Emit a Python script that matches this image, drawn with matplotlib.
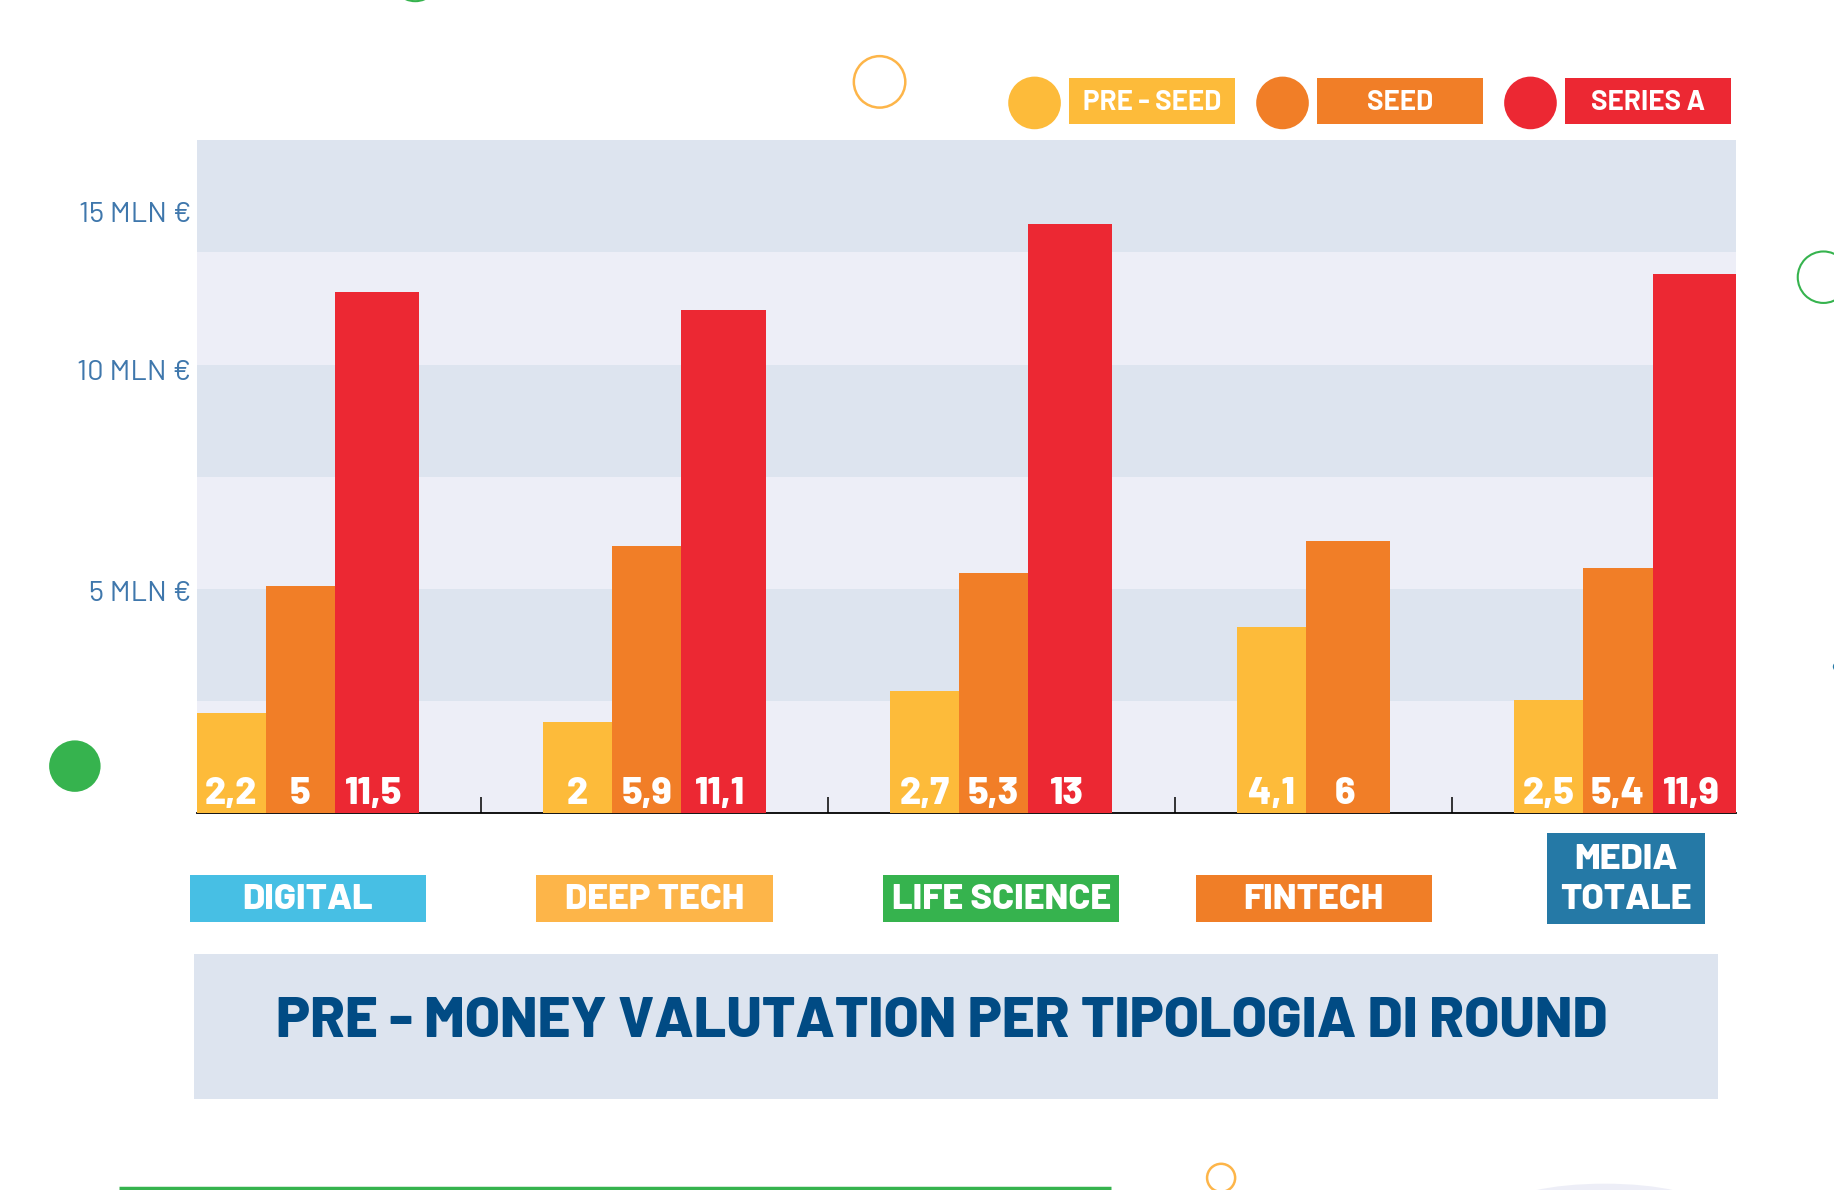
import matplotlib
matplotlib.use("Agg")
import matplotlib.pyplot as plt
from matplotlib.patches import Rectangle, Circle, Ellipse

# data
categories = ["DIGITAL", "DEEP TECH", "LIFE SCIENCE", "FINTECH", "MEDIA\nTOTALE"]
series = ["PRE - SEED", "SEED", "SERIES A"]
pre_seed = [2.2, 2.0, 2.7, 4.1, 2.5]
seed = [5.0, 5.9, 5.3, 6.0, 5.4]
series_a = [11.5, 11.1, 13.0, None, 11.9]
ytick_labels = ["15 MLN €", "10 MLN €", "5 MLN €"]
title = "PRE - MONEY VALUTATION PER TIPOLOGIA DI ROUND"

# look
series_colors = ["#FDBB3A", "#F17E27", "#EC2833"]
cat_colors = ["#47BFE4", "#FDB549", "#36B34E", "#F07E27", "#2579A6"]
band_dark, band_light = "#DDE4EF", "#EDEEF7"
label_blue = "#3F77AC"
title_blue = "#014B84"
FONT = ["Barlow", "Roboto", "DejaVu Sans"]

group_x = [0, 1, 2, 3, 3.8]     # group start positions (layout)
bar_w, bar_step = 0.243, 0.199
ytick_pos = [13.26, 9.79, 4.91]  # where the labels sit in the original
y_top = 14.85

W, H = 1568, 1017.4  # overlay coordinate system

fig = plt.figure(figsize=(18.34, 11.90), dpi=100)
ov = fig.add_axes([0, 0, 1, 1], zorder=0)
ov.set_xlim(0, W)
ov.set_ylim(H, 0)
ov.axis("off")

ax = fig.add_axes([168 / W, 1 - 695 / H, 1316 / W, 575 / H], zorder=1)
ax.set_xlim(0, 4.438)
ax.set_ylim(0, y_top)

# background bands
nb = 6
for i in range(nb):
    ax.axhspan(i * y_top / nb, (i + 1) * y_top / nb, color=band_light if i % 2 == 0 else band_dark,
               lw=0, zorder=0)

# bars
gap_mid = []
for g, x0 in enumerate(group_x):
    vals = [pre_seed[g], seed[g], series_a[g]]
    n = sum(v is not None for v in vals)
    for k, v in enumerate(vals):
        if v is None:
            continue
        left = x0 + k * bar_step
        ax.bar(left, v, width=bar_w, align="edge", color=series_colors[k], lw=0, zorder=3 + k)
        cx = left + (bar_w / 2 if k == n - 1 else bar_step / 2)
        if k == n - 1:
            cx -= 0.01
        ax.text(cx, 0.42, f"{v:g}".replace(".", ","), ha="center", va="center", color="white",
                fontsize=27, fontweight=800, family=FONT, zorder=10)
    end = x0 + (n - 1) * bar_step + bar_w
    if g < len(group_x) - 1:
        gap_mid.append((end + group_x[g + 1]) / 2)

for s in ["top", "right", "left"]:
    ax.spines[s].set_visible(False)
ax.spines["bottom"].set_linewidth(1.3)
ax.spines["bottom"].set_zorder(2)
ax.set_xticks(gap_mid)
ax.set_xticklabels([])
ax.tick_params(axis="x", direction="in", length=11.5, width=1.1, color="black")
ax.set_yticks(ytick_pos)
ax.set_yticklabels(ytick_labels, fontsize=21, color=label_blue, family=FONT)
ax.tick_params(axis="y", length=0, pad=4)


def to_ov(x, y):
    return ov.transData.inverted().transform(ax.transData.transform((x, y)))


# category boxes under each group
for g, x0 in enumerate(group_x):
    vals = [pre_seed[g], seed[g], series_a[g]]
    n = sum(v is not None for v in vals)
    xc = to_ov(x0 + ((n - 1) * bar_step + bar_w) / 2, 0)[0]
    if "\n" in categories[g]:
        bw, y0, y1 = 135, 712, 790
    else:
        bw, y0, y1 = 202, 748, 788
    ov.add_patch(Rectangle((xc - bw / 2, y0), bw, y1 - y0, color=cat_colors[g], lw=0))
    ov.text(xc, (y0 + y1) / 2 + 1.5, categories[g], ha="center", va="center", color="white",
            fontsize=26, fontweight=800, family=FONT, linespacing=1.3)

# legend
leg_x = [914, 1126, 1338]
for k, name in enumerate(series):
    ov.add_patch(Circle((leg_x[k] - 29.5, 88), 22.5, color=series_colors[k], lw=0))
    ov.add_patch(Rectangle((leg_x[k], 67), 142, 39, color=series_colors[k], lw=0))
    ov.text(leg_x[k] + 71, 88, name, ha="center", va="center", color="white",
            fontsize=20, fontweight="bold", family=FONT)

# title box
ov.add_patch(Rectangle((166, 816), 1303, 124, color=band_dark, lw=0))
ov.text(805, 873.5, title, ha="center", va="center", color=title_blue,
        fontsize=41, fontweight=800, family=FONT)

# decorations
ov.add_patch(Circle((752, 70), 22, fill=False, ec="#FDB549", lw=1.8))
ov.add_patch(Circle((355, -20), 21, fill=False, ec="#36B34E", lw=1.5))
ov.add_patch(Circle((1559, 237), 22, fill=False, ec="#36B34E", lw=1.5))
ov.add_patch(Circle((1571, 570), 4, color="#2579A6", lw=0))
ov.add_patch(Circle((64, 655), 22, color="#36B34E", lw=0))
ov.add_patch(Circle((1044, 1007), 12, fill=False, ec="#FDB549", lw=1.8))
ov.add_patch(Ellipse((1372, 1032), 170, 40, color=band_light, lw=0))
ov.plot([102, 950], [1015.5, 1015.5], color="#36B34E", lw=2.5, solid_capstyle="butt")

fig.savefig("out.png", dpi=100)
